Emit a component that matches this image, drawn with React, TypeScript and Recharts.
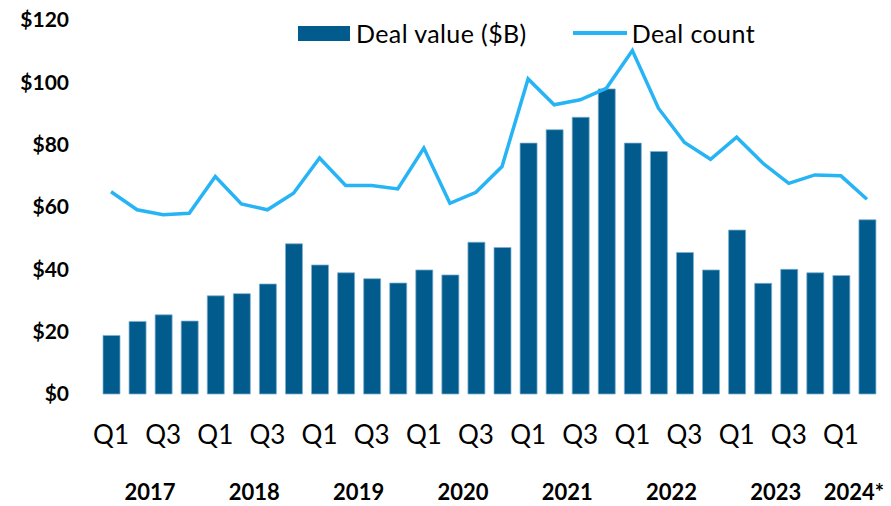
import {
  ComposedChart,
  Bar,
  Line,
  XAxis,
  YAxis,
} from "recharts";

const quarters = [
  "Q1", "Q2", "Q3", "Q4", "Q1", "Q2", "Q3", "Q4", "Q1", "Q2", "Q3", "Q4",
  "Q1", "Q2", "Q3", "Q4", "Q1", "Q2", "Q3", "Q4", "Q1", "Q2", "Q3", "Q4",
  "Q1", "Q2", "Q3", "Q4", "Q1", "Q2",
];

// year label sits under the gap between the middle quarters of each year
const yearLabels = [
  "", "2017", "", "", "", "2018", "", "", "", "2019", "", "",
  "", "2020", "", "", "", "2021", "", "", "", "2022", "", "",
  "", "2023", "", "", "2024*", "",
];

const dealValue = [
  18.8, 23.3, 25.4, 23.4, 31.5, 32.2, 35.3, 48.2, 41.4, 38.9, 37.0, 35.6,
  39.8, 38.2, 48.7, 47.0, 80.5, 84.8, 88.8, 97.9, 80.5, 77.8, 45.4, 39.8,
  52.6, 35.5, 40.0, 38.9, 38.0, 55.9,
];

const dealCount = [
  64.9, 59.1, 57.5, 58.0, 69.8, 61.0, 59.1, 64.4, 75.7, 66.9, 66.9, 65.8,
  78.9, 61.2, 64.7, 73.0, 101.1, 92.8, 94.4, 98.1, 110.2, 91.7, 80.7, 75.3,
  82.4, 74.1, 67.6, 70.3, 70.0, 62.5,
];

const yTicks = [0, 20, 40, 60, 80, 100, 120];

const BAR = "#015b8d";
const LINE = "#27b4f5";
const FONT = "Lato, 'Noto Sans', sans-serif";

const data = quarters.map((q, i) => ({
  key: i,
  quarter: q,
  value: dealValue[i],
  count: dealCount[i],
}));

function QuarterTick(props: any) {
  const { x, y, index } = props;
  const yr = yearLabels[index];
  return (
    <g>
      {index % 2 === 0 && (
        <text x={x} y={y + 48} textAnchor="middle" fontSize={26} fill="#000" fontFamily={FONT}>
          {quarters[index]}
        </text>
      )}
      {yr && (
        <text
          x={x + 13}
          y={y + 104}
          textAnchor="middle"
          fontSize={22}
          fontWeight="bold"
          fill="#000"
          fontFamily={FONT}
        >
          {yr}
        </text>
      )}
    </g>
  );
}

function LegendBox() {
  return (
    <div
      style={{
        position: "absolute",
        left: 298,
        top: 17,
        display: "flex",
        alignItems: "center",
        fontFamily: FONT,
        fontSize: 25,
        letterSpacing: 0.4,
        color: "#000",
        lineHeight: "32px",
      }}
    >
      <span style={{ width: 52, height: 15, background: BAR, display: "inline-block", marginRight: 6 }} />
      <span>Deal value ($B)</span>
      <span style={{ width: 54, height: 4, background: LINE, display: "inline-block", marginLeft: 46, marginRight: 5 }} />
      <span>Deal count</span>
    </div>
  );
}

export default function App() {
  return (
    <div style={{ position: "absolute", left: 0, top: 0, width: 891, height: 506, background: "#fff" }}>
      <ComposedChart
        width={891}
        height={506}
        data={data}
        margin={{ top: 20, right: 11, bottom: 0, left: 0 }}
      >
        <XAxis
          dataKey="key"
          interval={0}
          tick={<QuarterTick />}
          tickLine={false}
          axisLine={false}
          tickSize={0}
          height={112}
        />
        <YAxis
          domain={[0, 120]}
          ticks={yTicks}
          tickFormatter={(v: number) => `$${v}`}
          tick={{ fontSize: 21, fontWeight: "bold", fill: "#000", fontFamily: FONT }}
          tickLine={false}
          axisLine={false}
          tickSize={0}
          tickMargin={29}
          width={98}
        />
        <Bar
          dataKey="value"
          name="Deal value ($B)"
          fill={BAR}
          stroke="#7fb0d2"
          strokeWidth={0.75}
          barSize={17}
          isAnimationActive={false}
        />
        <Line
          dataKey="count"
          name="Deal count"
          type="linear"
          stroke={LINE}
          strokeWidth={3.5}
          dot={false}
          isAnimationActive={false}
        />
      </ComposedChart>
      <LegendBox />
    </div>
  );
}
